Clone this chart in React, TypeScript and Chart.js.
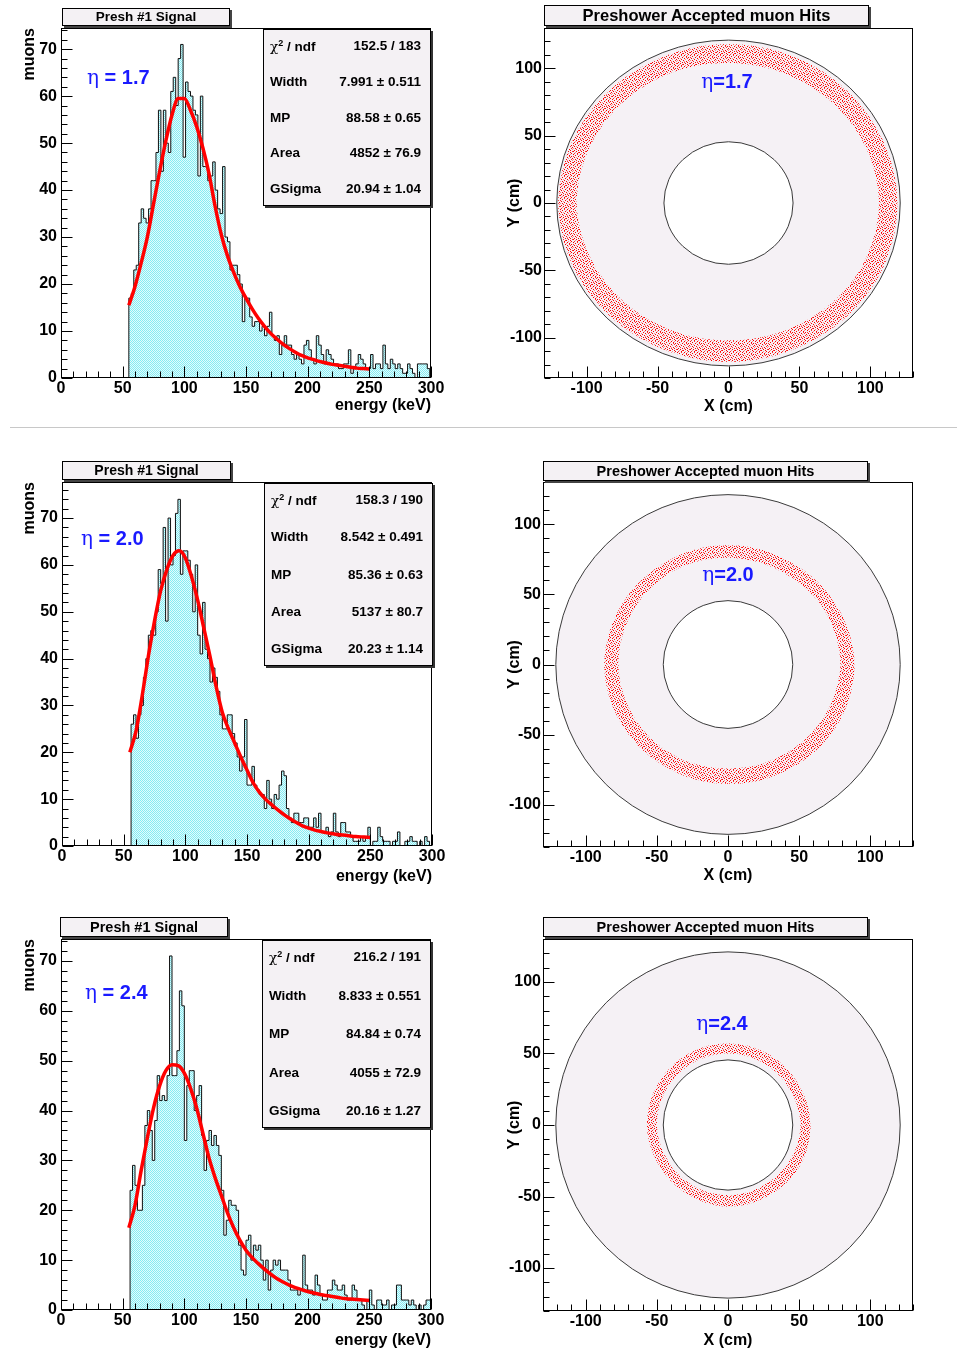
import React, { useEffect, useRef } from "react";
import { Chart, registerables } from "chart.js";

Chart.register(...registerables);

const SANS = "'Liberation Sans', Arial, Helvetica, sans-serif";
const GREEK = "'DejaVu Serif', 'Liberation Serif', serif";
Chart.defaults.font.family = SANS;

// ---------------- Energy histograms (2 keV bins) ----------------
const BIN_WIDTH_KEV = 2;
const binLowEta17 = 55;
const binLowEta20 = 56;
const binLowEta24 = 56;

const countsEta17 = [
  17, 18, 23, 24, 33, 36, 34, 33, 36, 42,
  42, 48, 57, 44, 57, 50, 48, 61, 64, 58,
  68, 71, 47, 63, 61, 60, 57, 56, 43, 60,
  45, 45, 42, 43, 46, 40, 36, 35, 45, 30,
  29, 23, 24, 24, 22, 20, 12, 17, 17, 13,
  11, 12, 12, 10, 11, 9, 11, 14, 9, 8,
  9, 5, 7, 9, 7, 7, 5, 4, 5, 4,
  3, 7, 8, 6, 4, 3, 9, 7, 5, 3,
  6, 5, 4, 3, 3, 2, 2, 3, 3, 6,
  1, 2, 3, 5, 4, 3, 2, 2, 5, 2,
  3, 3, 2, 7, 3, 2, 4, 3, 2, 3,
  2, 1, 1, 3, 2, 1, 0, 3, 3, 3,
  3, 2,
];

const countsEta20 = [
  26, 28, 23, 28, 30, 36, 40, 45, 46, 45,
  50, 59, 56, 68, 48, 70, 60, 62, 71, 74,
  58, 63, 63, 61, 58, 50, 60, 45, 41, 52,
  42, 40, 35, 38, 36, 33, 28, 25, 25, 28,
  28, 24, 22, 19, 16, 19, 27, 13, 13, 17,
  13, 12, 11, 11, 8, 14, 10, 8, 11, 10,
  13, 16, 15, 8, 6, 5, 7, 7, 5, 5,
  6, 6, 4, 4, 6, 4, 7, 3, 3, 4,
  2, 3, 7, 3, 2, 5, 5, 3, 3, 2,
  1, 1, 1, 2, 1, 2, 4, 0, 1, 1,
  4, 2, 1, 1, 1, 0, 1, 1, 3, 0,
  0, 1, 1, 2, 1, 1, 0, 1, 0, 2,
  1, 0,
];

const countsEta24 = [
  24, 29, 25, 20, 20, 25, 37, 40, 36, 30,
  38, 47, 42, 43, 42, 47, 71, 47, 47, 52,
  64, 61, 34, 45, 48, 48, 40, 43, 45, 35,
  28, 34, 36, 33, 35, 33, 31, 24, 15, 18,
  22, 21, 21, 20, 13, 8, 7, 14, 15, 10,
  13, 12, 13, 10, 6, 10, 4, 8, 10, 9,
  10, 8, 8, 8, 6, 4, 4, 4, 3, 4,
  11, 5, 4, 4, 3, 7, 5, 3, 2, 2,
  4, 4, 6, 5, 4, 4, 5, 3, 2, 2,
  5, 4, 2, 2, 1, 0, 2, 4, 1, 0,
  2, 2, 1, 1, 2, 0, 1, 1, 5, 5,
  2, 2, 2, 1, 2, 1, 0, 1, 0, 1,
  2, 2,
];

// Landau (x) Gauss fit curves, read every 5 keV
const fitEnergyKeV = [
  55, 60, 65, 70, 75, 80, 85, 90, 95, 100,
  105, 110, 115, 120, 125, 130, 135, 140, 145, 150,
  155, 160, 165, 170, 175, 180, 185, 190, 195, 200,
  205, 210, 215, 220, 225, 230, 235, 240, 245, 250,
];
const fitEta17 = [
  15.5, 19.5, 24.5, 30, 37, 44, 50.5, 56, 59.5, 59.5,
  57, 53.5, 49, 43.5, 36.5, 30.5, 26, 22.5, 19.5, 17,
  14.7, 12.7, 11, 9.5, 8.3, 7.2, 6.3, 5.5, 4.8, 4.3,
  3.9, 3.5, 3.2, 2.9, 2.7, 2.5, 2.3, 2.1, 2.0, 1.9,
];
const fitEta20 = [
  20, 24.5, 32, 40.5, 48, 54.5, 59, 62, 63, 61.5,
  57.5, 52.5, 46.5, 40.5, 34, 28.5, 25, 22, 19, 16.2,
  13.5, 11.5, 10, 8.8, 7.7, 6.7, 5.8, 5.0, 4.3, 3.8,
  3.4, 3.1, 2.8, 2.6, 2.4, 2.3, 2.1, 2.0, 1.9, 1.8,
];
const fitEta24 = [
  16.5, 21, 28, 34.5, 40.5, 45, 48, 49.2, 49, 47.5,
  44.5, 40.5, 35.5, 30.5, 26.5, 23, 19.5, 16.5, 14, 12,
  10.5, 9.3, 8.2, 7.2, 6.3, 5.6, 5.0, 4.5, 4.1, 3.7,
  3.4, 3.1, 2.9, 2.7, 2.5, 2.3, 2.2, 2.1, 2.0, 1.9,
];

const energyAxisMin = 0;
const energyAxisMax = 300;
const muonAxisMaxEta17 = 74.5;
const muonAxisMaxEta20 = 77.7;
const muonAxisMaxEta24 = 74.4;

const statLabels = ["χ² / ndf", "Width", "MP", "Area", "GSigma"];
const statsEta17 = ["152.5 / 183", "7.991 ± 0.511", "88.58 ± 0.65", "4852 ± 76.9", "20.94 ± 1.04"];
const statsEta20 = ["158.3 / 190", "8.542 ± 0.491", "85.36 ± 0.63", "5137 ± 80.7", "20.23 ± 1.14"];
const statsEta24 = ["216.2 / 191", "8.833 ± 0.551", "84.84 ± 0.74", "4055 ± 72.9", "20.16 ± 1.27"];

const etaValues = ["1.7", "2.0", "2.4"];

// ---------------- Hit maps ----------------
const positionAxisMin = -130;
const positionAxisMax = 130;
const detectorOuterRadius = 121;
const detectorInnerRadius = 45.5;
const hitAnglesDeg = [0, 30, 60, 90, 120, 150, 180, 210, 240, 270, 300, 330];
const hitInnerEta17 = [106, 105, 104, 104, 105, 106, 107, 105, 103, 102, 103, 105];
const hitOuterEta17 = [119, 118, 118, 118, 118, 119, 120, 119, 118, 118, 118, 119];
const hitInnerEta20 = [79, 78, 76, 76, 77, 77, 77, 76, 75, 74, 75, 77];
const hitOuterEta20 = [89, 87, 85, 85, 85, 86, 87, 86, 85, 85, 86, 88];
const hitInnerEta24 = [51, 50, 50, 50, 50, 50, 50, 49, 49, 49, 49, 50];
const hitOuterEta24 = [58, 57, 57, 57, 57, 57, 57, 56, 56, 57, 57, 58];

// ---------------- helpers ----------------
function makeCyanPattern(ctx: CanvasRenderingContext2D) {
  const c = document.createElement("canvas");
  c.width = 2;
  c.height = 2;
  const g = c.getContext("2d")!;
  g.fillStyle = "#e4fbfc";
  g.fillRect(0, 0, 2, 2);
  g.fillStyle = "#84ecf3";
  g.fillRect(0, 0, 1, 1);
  g.fillRect(1, 1, 1, 1);
  return ctx.createPattern(c, "repeat")!;
}

// speckle texture tile for the hit bands (x, y, shade)
const RED_TILE = [
  [0, 0, 0], [4, 0, 1], [7, 0, 0], [10, 0, 2], [2, 1, 0], [6, 1, 2], [9, 1, 0],
  [5, 2, 0], [0, 2, 1], [11, 2, 0], [1, 3, 0], [3, 3, 2], [7, 3, 0], [10, 3, 1],
  [4, 4, 0], [8, 4, 2], [12, 4, 0], [0, 5, 2], [2, 5, 0], [6, 5, 0], [11, 5, 1],
  [3, 6, 1], [9, 6, 0], [12, 6, 2], [1, 7, 0], [5, 7, 0], [7, 7, 1], [10, 7, 0],
  [0, 8, 0], [3, 8, 0], [8, 8, 0], [12, 8, 1], [2, 9, 2], [5, 9, 1], [6, 9, 0],
  [10, 9, 0], [1, 10, 1], [4, 10, 0], [8, 10, 2], [11, 10, 0], [7, 6, 2], [9, 2, 1],
];
const RED_SHADES = ["#ff0000", "#ff3030", "#ff8a8a"];

function makeRedPattern(ctx: CanvasRenderingContext2D) {
  const c = document.createElement("canvas");
  c.width = 13;
  c.height = 11;
  const g = c.getContext("2d")!;
  for (const [px, py, s] of RED_TILE) {
    g.fillStyle = RED_SHADES[s];
    g.fillRect(px, py, 1, 1);
  }
  return ctx.createPattern(c, "repeat")!;
}

type TickSpec = { xMinor: number; xMajor: number; yMinor: number; yMajor: number };

function makeFramePlugin(t: TickSpec) {
  return {
    id: "rootFrame",
    afterDatasetsDraw(chart: any) {
      const { ctx, chartArea: a, scales } = chart;
      const xs = scales.x;
      const ys = scales.y;
      const L = Math.round(a.left) + 0.5;
      const T = Math.round(a.top) + 0.5;
      const R = Math.round(a.right) - 0.5;
      const B = Math.round(a.bottom) - 0.5;
      ctx.save();
      ctx.strokeStyle = "#000";
      ctx.lineWidth = 1;
      ctx.beginPath();
      const isMajor = (v: number, major: number) => Math.abs(v / major - Math.round(v / major)) < 1e-6;
      for (let k = Math.ceil(xs.min / t.xMinor - 1e-9); k * t.xMinor <= xs.max + 1e-9; k++) {
        const v = k * t.xMinor;
        const px = Math.round(xs.getPixelForValue(v)) + 0.5;
        const len = isMajor(v, t.xMajor) ? 11 : 6;
        ctx.moveTo(px, B);
        ctx.lineTo(px, B - len);
      }
      for (let k = Math.ceil(ys.min / t.yMinor - 1e-9); k * t.yMinor <= ys.max + 1e-9; k++) {
        const v = k * t.yMinor;
        const py = Math.round(ys.getPixelForValue(v)) + 0.5;
        const len = isMajor(v, t.yMajor) ? 11 : 6;
        ctx.moveTo(L, py);
        ctx.lineTo(L + len, py);
      }
      ctx.stroke();
      ctx.strokeRect(L, T, R - L, B - T);
      ctx.restore();
    },
  };
}

type DetectorSpec = {
  outerR: number;
  innerR: number;
  angles: number[];
  inner: number[];
  outer: number[];
};

function makeDetectorPlugin(d: DetectorSpec, pattern: CanvasPattern) {
  return {
    id: "detector",
    beforeDatasetsDraw(chart: any) {
      const { ctx, chartArea: a, scales } = chart;
      const x = scales.x;
      const y = scales.y;
      const cx = x.getPixelForValue(0);
      const cy = y.getPixelForValue(0);
      const ellipse = (r: number) => {
        ctx.ellipse(
          cx,
          cy,
          Math.abs(x.getPixelForValue(r) - cx),
          Math.abs(y.getPixelForValue(r) - cy),
          0,
          0,
          Math.PI * 2
        );
      };
      ctx.save();
      ctx.beginPath();
      ctx.rect(a.left, a.top, a.right - a.left, a.bottom - a.top);
      ctx.clip();
      ctx.lineWidth = 1;
      ctx.strokeStyle = "#3a3a3a";
      ctx.beginPath();
      ellipse(d.outerR);
      ctx.fillStyle = "#f5f1f5";
      ctx.fill();
      ctx.stroke();
      ctx.beginPath();
      ellipse(d.innerR);
      ctx.fillStyle = "#ffffff";
      ctx.fill();
      ctx.stroke();

      const n = d.angles.length;
      const trace = (radii: number[]) => {
        for (let deg = 0; deg <= 360; deg += 2) {
          let i = 0;
          while (i < n - 1 && d.angles[i + 1] <= deg) i++;
          const a0 = d.angles[i];
          const a1 = i + 1 < n ? d.angles[i + 1] : d.angles[0] + 360;
          const t = (deg - a0) / (a1 - a0);
          const r = radii[i] * (1 - t) + radii[(i + 1) % n] * t;
          const th = (deg * Math.PI) / 180;
          const px = x.getPixelForValue(r * Math.cos(th));
          const py = y.getPixelForValue(r * Math.sin(th));
          if (deg === 0) ctx.moveTo(px, py);
          else ctx.lineTo(px, py);
        }
        ctx.closePath();
      };
      ctx.beginPath();
      trace(d.outer);
      trace(d.inner);
      ctx.fillStyle = pattern;
      ctx.fill("evenodd");
      ctx.restore();
    },
  };
}

const tickFont = { family: SANS, size: 16, weight: "bold" as const };
const titleFont = { family: SANS, size: 16, weight: "bold" as const };

type Frame = { l: number; r: number; t: number; b: number };

function HistPanel(p: {
  top: number;
  height: number;
  frame: Frame;
  yMax: number;
  binLow: number;
  counts: number[];
  fit: number[];
  xTitlePad: number;
}) {
  const ref = useRef<HTMLCanvasElement>(null);
  const left = 0;
  const width = p.frame.r + 20 - left;
  useEffect(() => {
    const canvas = ref.current!;
    const ctx = canvas.getContext("2d")!;
    const pattern = makeCyanPattern(ctx);
    const edgeEnd = p.binLow + p.counts.length * BIN_WIDTH_KEV;
    // each point opens a bin; 'before' stepping keeps the previous value until the next edge
    const histPoints = [
      { x: energyAxisMin, y: 0 },
      ...p.counts.map((c, i) => ({ x: p.binLow + i * BIN_WIDTH_KEV, y: c })),
      { x: edgeEnd, y: 0 },
    ];
    const fitPoints = fitEnergyKeV.map((e, i) => ({ x: e, y: p.fit[i] }));
    const yAxisW = p.frame.l - left;
    const xAxisH = p.top + p.height - p.frame.b;
    const chart = new Chart(canvas, {
      type: "line",
      data: {
        datasets: [
          {
            label: "fit",
            data: fitPoints,
            borderColor: "#ff0000",
            borderWidth: 3.5,
            pointRadius: 0,
            cubicInterpolationMode: "monotone",
            fill: false,
            order: 0,
          } as any,
          {
            label: "muons",
            data: histPoints,
            stepped: "before",
            borderColor: "#111111",
            borderWidth: 1,
            backgroundColor: pattern,
            fill: "origin",
            pointRadius: 0,
            order: 1,
          } as any,
        ],
      },
      options: {
        animation: false,
        responsive: false,
        maintainAspectRatio: false,
        devicePixelRatio: 1,
        layout: { padding: { left: 0, top: p.frame.t - p.top, right: left + width - p.frame.r, bottom: 0 } },
        plugins: { legend: { display: false }, tooltip: { enabled: false } },
        scales: {
          x: {
            type: "linear",
            min: energyAxisMin,
            max: energyAxisMax,
            ticks: { stepSize: 50, font: tickFont, color: "#000", padding: 1, maxRotation: 0, autoSkip: false, includeBounds: false },
            grid: { display: false, drawTicks: false },
            border: { display: false },
            title: {
              display: true,
              text: "energy (keV)",
              align: "end",
              color: "#000",
              font: titleFont,
              padding: { top: 0, bottom: p.xTitlePad },
            },
            afterFit: (s: any) => {
              s.height = xAxisH;
            },
          },
          y: {
            type: "linear",
            min: 0,
            max: p.yMax,
            ticks: { stepSize: 10, font: tickFont, color: "#000", padding: 4, autoSkip: false, includeBounds: false },
            grid: { display: false, drawTicks: false },
            border: { display: false },
            title: {
              display: true,
              text: "muons",
              align: "end",
              color: "#000",
              font: titleFont,
              padding: { top: 20.4, bottom: 0 },
            },
            afterFit: (s: any) => {
              s.width = yAxisW;
            },
          },
        },
      } as any,
      plugins: [makeFramePlugin({ xMinor: 10, xMajor: 50, yMinor: 2, yMajor: 10 })],
    });
    return () => chart.destroy();
  }, []);
  return (
    <canvas
      ref={ref}
      width={width}
      height={p.height}
      style={{ position: "absolute", left, top: p.top, width, height: p.height }}
    />
  );
}

function HitsPanel(p: {
  top: number;
  height: number;
  frame: Frame;
  inner: number[];
  outer: number[];
  xTitlePad: number;
}) {
  const ref = useRef<HTMLCanvasElement>(null);
  const left = 495;
  const width = p.frame.r + 25 - left;
  useEffect(() => {
    const canvas = ref.current!;
    const ctx = canvas.getContext("2d")!;
    const pattern = makeRedPattern(ctx);
    const yAxisW = p.frame.l - left;
    const xAxisH = p.top + p.height - p.frame.b;
    const chart = new Chart(canvas, {
      type: "line",
      data: { datasets: [] },
      options: {
        animation: false,
        responsive: false,
        maintainAspectRatio: false,
        devicePixelRatio: 1,
        layout: { padding: { left: 0, top: p.frame.t - p.top, right: left + width - p.frame.r, bottom: 0 } },
        plugins: { legend: { display: false }, tooltip: { enabled: false } },
        scales: {
          x: {
            type: "linear",
            min: positionAxisMin,
            max: positionAxisMax,
            ticks: { stepSize: 50, font: tickFont, color: "#000", padding: 1, maxRotation: 0, autoSkip: false, includeBounds: false },
            grid: { display: false, drawTicks: false },
            border: { display: false },
            title: {
              display: true,
              text: "X (cm)",
              align: "center",
              color: "#000",
              font: titleFont,
              padding: { top: 0, bottom: p.xTitlePad },
            },
            afterFit: (s: any) => {
              s.height = xAxisH;
            },
          },
          y: {
            type: "linear",
            min: positionAxisMin,
            max: positionAxisMax,
            ticks: { stepSize: 50, font: tickFont, color: "#000", padding: 2, autoSkip: false, includeBounds: false },
            grid: { display: false, drawTicks: false },
            border: { display: false },
            title: {
              display: true,
              text: "Y (cm)",
              align: "center",
              color: "#000",
              font: titleFont,
              padding: { top: 10.4, bottom: 0 },
            },
            afterFit: (s: any) => {
              s.width = yAxisW;
            },
          },
        },
      } as any,
      plugins: [
        makeDetectorPlugin(
          {
            outerR: detectorOuterRadius,
            innerR: detectorInnerRadius,
            angles: hitAnglesDeg,
            inner: p.inner,
            outer: p.outer,
          },
          pattern
        ),
        makeFramePlugin({ xMinor: 10, xMajor: 50, yMinor: 10, yMajor: 50 }),
      ],
    });
    return () => chart.destroy();
  }, []);
  return (
    <canvas
      ref={ref}
      width={width}
      height={p.height}
      style={{ position: "absolute", left, top: p.top, width, height: p.height }}
    />
  );
}

function TitleBox(p: { left: number; top: number; width: number; height: number; size: number; text: string }) {
  return (
    <div
      style={{
        position: "absolute",
        left: p.left,
        top: p.top,
        width: p.width,
        height: p.height,
        boxSizing: "border-box",
        background: "#f4f1f4",
        border: "1px solid #000",
        boxShadow: "2px 2px 0 #444",
        fontFamily: SANS,
        fontWeight: "bold",
        fontSize: p.size,
        lineHeight: `${p.height - 2}px`,
        textAlign: "center",
        color: "#000",
        whiteSpace: "nowrap",
      }}
    >
      {p.text}
    </div>
  );
}

function StatLabel({ text }: { text: string }) {
  if (text.startsWith("χ")) {
    const rest = text.replace("χ²", "");
    return (
      <span>
        <span style={{ fontFamily: GREEK, fontWeight: "normal" }}>χ</span>
        <span style={{ fontSize: 9, position: "relative", top: -5 }}>2</span>
        {rest}
      </span>
    );
  }
  return <span>{text}</span>;
}

function StatsBox(p: { left: number; top: number; width: number; height: number; values: string[] }) {
  const spacing = (p.height - 34) / 4;
  return (
    <div
      style={{
        position: "absolute",
        left: p.left,
        top: p.top,
        width: p.width,
        height: p.height,
        boxSizing: "border-box",
        background: "#f4f1f4",
        border: "1px solid #000",
        boxShadow: "2px 2px 0 #333",
        fontFamily: SANS,
        fontWeight: "bold",
        fontSize: 13.5,
        color: "#000",
      }}
    >
      {statLabels.map((lbl, i) => (
        <div
          key={lbl}
          style={{
            position: "absolute",
            left: 6,
            right: 9,
            top: 16 + i * spacing - 9,
            height: 18,
            lineHeight: "18px",
            display: "flex",
            justifyContent: "space-between",
            whiteSpace: "nowrap",
          }}
        >
          <StatLabel text={lbl} />
          <span>{p.values[i]}</span>
        </div>
      ))}
    </div>
  );
}

function EtaLeft(p: { left: number; cy: number; value: string }) {
  return (
    <div
      style={{
        position: "absolute",
        left: p.left,
        top: p.cy - 13,
        height: 26,
        lineHeight: "26px",
        fontFamily: SANS,
        fontWeight: "bold",
        fontSize: 20,
        color: "#1a1aff",
        whiteSpace: "nowrap",
      }}
    >
      <span style={{ fontFamily: GREEK, fontWeight: "normal" }}>η</span> = {p.value}
    </div>
  );
}

function EtaRight(p: { cx: number; cy: number; value: string }) {
  return (
    <div
      style={{
        position: "absolute",
        left: p.cx,
        top: p.cy,
        transform: "translate(-50%, -50%)",
        fontFamily: SANS,
        fontWeight: "bold",
        fontSize: 20,
        color: "#1a1aff",
        whiteSpace: "nowrap",
        lineHeight: "26px",
      }}
    >
      <span style={{ fontFamily: GREEK, fontWeight: "normal" }}>η</span>={p.value}
    </div>
  );
}

export default function App() {
  return (
    <div
      style={{
        position: "absolute",
        left: 0,
        top: 0,
        width: 957,
        height: 1358,
        background: "#ffffff",
        overflow: "hidden",
      }}
    >
      <HistPanel top={0} height={420} frame={{ l: 61, r: 431, t: 28, b: 378 }} yMax={muonAxisMaxEta17} binLow={binLowEta17} counts={countsEta17} fit={fitEta17} xTitlePad={4.4} />
      <HistPanel top={440} height={448} frame={{ l: 62, r: 432, t: 482, b: 846 }} yMax={muonAxisMaxEta20} binLow={binLowEta20} counts={countsEta20} fit={fitEta20} xTitlePad={1.4} />
      <HistPanel top={900} height={452} frame={{ l: 61, r: 431, t: 939, b: 1310 }} yMax={muonAxisMaxEta24} binLow={binLowEta24} counts={countsEta24} fit={fitEta24} xTitlePad={1.4} />

      <HitsPanel top={0} height={420} frame={{ l: 544, r: 913, t: 28, b: 378 }} inner={hitInnerEta17} outer={hitOuterEta17} xTitlePad={3.4} />
      <HitsPanel top={440} height={449} frame={{ l: 543, r: 913, t: 482, b: 847 }} inner={hitInnerEta20} outer={hitOuterEta20} xTitlePad={3.4} />
      <HitsPanel top={900} height={453} frame={{ l: 543, r: 913, t: 939, b: 1311 }} inner={hitInnerEta24} outer={hitOuterEta24} xTitlePad={2.4} />

      <div style={{ position: "absolute", left: 10, top: 427, width: 947, height: 1, background: "#c8c8c8" }} />

      <TitleBox left={62} top={8} width={168} height={18} size={13.5} text="Presh #1 Signal" />
      <TitleBox left={544} top={5} width={325} height={21} size={16.5} text="Preshower Accepted muon Hits" />
      <TitleBox left={62} top={461} width={169} height={19} size={14} text="Presh #1 Signal" />
      <TitleBox left={543} top={461} width={325} height={20} size={14.5} text="Preshower Accepted muon Hits" />
      <TitleBox left={60} top={917} width={168} height={20} size={14.5} text="Presh #1 Signal" />
      <TitleBox left={543} top={917} width={325} height={20} size={14.5} text="Preshower Accepted muon Hits" />

      <StatsBox left={263} top={29} width={168} height={177} values={statsEta17} />
      <StatsBox left={264} top={483} width={169} height={183} values={statsEta20} />
      <StatsBox left={262} top={940} width={169} height={188} values={statsEta24} />

      <EtaLeft left={87} cy={77} value={etaValues[0]} />
      <EtaLeft left={81} cy={538} value={etaValues[1]} />
      <EtaLeft left={85} cy={992} value={etaValues[2]} />

      <EtaRight cx={727} cy={81} value={etaValues[0]} />
      <EtaRight cx={728} cy={574} value={etaValues[1]} />
      <EtaRight cx={722} cy={1023} value={etaValues[2]} />
    </div>
  );
}
